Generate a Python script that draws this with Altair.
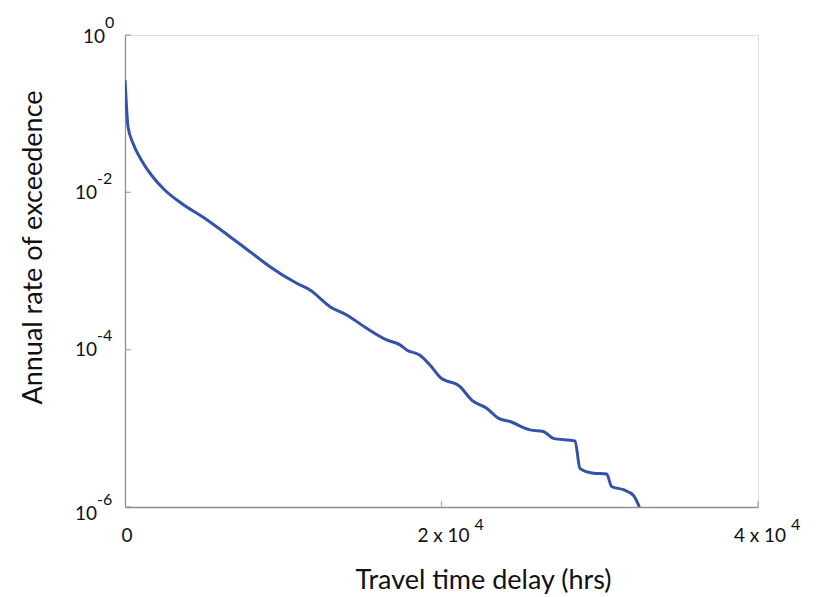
import altair as alt
import pandas as pd

# Curve (travel time delay in hrs, annual rate of exceedence)
delay_hrs = [0, 82, 190, 506, 1030, 1662, 2509, 3558, 5036, 6635, 7899, 9163,
             10850, 11690, 12954, 14010, 15273, 16536, 17378, 17800, 18641, 19273,
             19905, 21169, 21906, 22854, 23590, 24328, 25592, 26435, 27067, 28436,
             28752, 29594, 30437, 30753, 31490, 32122, 32438, 32500]
annual_rate = [0.268, 0.1355, 0.0684, 0.0420, 0.0258, 0.0166, 0.0107, 0.00726, 0.00468,
               0.00273, 0.00176, 0.001135, 0.000698, 0.000574, 0.000352, 0.000276,
               0.000187, 0.000133, 0.000115, 0.0000991, 0.0000851, 0.0000638,
               0.0000447, 0.0000339, 0.0000229, 0.0000180, 0.0000135, 0.0000122,
               0.00000955, 0.00000912, 0.00000746, 0.00000692, 0.00000309, 0.00000269,
               0.00000263, 0.00000182, 0.00000166, 0.00000141, 0.00000107, 0.000001]

y_tick_values = [1, 1e-2, 1e-4, 1e-6]
y_tick_exps = ["0", "-2", "-4", "-6"]
x_tick_values = [0, 20000, 40000]
x_tick_mant = ["0", "2 x 10", "4 x 10"]
x_tick_exps = ["", "4", "4"]

FONT = "Lato"
AX = "#8f8f8f"
LINE = "#3352a8"

curve = pd.DataFrame({"x": delay_hrs, "y": annual_rate, "order": range(len(delay_hrs))})
ytk = pd.DataFrame({"y": y_tick_values, "exp": y_tick_exps})
xtk = pd.DataFrame({"x": x_tick_values, "mant": x_tick_mant, "exp": x_tick_exps})

xscale = alt.Scale(domain=[0, 40000], nice=False, zero=False)
yscale = alt.Scale(type="log", domain=[1e-6, 1], nice=False)

line = alt.Chart(curve).mark_line(color=LINE, strokeWidth=3, strokeJoin="round",
                                  interpolate="monotone", clip=True).encode(
    x=alt.X("x:Q", scale=xscale,
            axis=alt.Axis(labels=False, ticks=False, grid=False, domainColor=AX, domainWidth=1.3,
                          title="Travel time delay (hrs)", titleFont=FONT, titleFontSize=27,
                          titleFontWeight="normal", titleColor="#111",
                          titleX=358, titleY=81, titleBaseline="alphabetic", titleAlign="center")),
    y=alt.Y("y:Q", scale=yscale,
            axis=alt.Axis(labels=False, ticks=False, grid=False, domainColor=AX, domainWidth=1.3,
                          title="Annual rate of exceedence", titleFont=FONT, titleFontSize=27,
                          titleFontWeight="normal", titleColor="#111",
                          titleX=-92, titleY=212, titleBaseline="middle", titleAlign="center",
                          titleAngle=-90)),
    order="order:Q",
)

# inward ticks
ytick_marks = alt.Chart(ytk).mark_tick(orient="horizontal", size=6, thickness=1.3, color=AX, xOffset=3).encode(
    x=alt.datum(0, scale=xscale), y=alt.Y("y:Q", scale=yscale))
xtick_marks = alt.Chart(xtk).transform_filter("datum.x > 0").mark_tick(
    orient="vertical", size=6, thickness=1.3, color=AX, yOffset=-3).encode(
    x=alt.X("x:Q", scale=xscale), y=alt.datum(1e-6, scale=yscale))

def ylabel(exp, dx10, dxexp, dy):
    base = alt.Chart(ytk).transform_filter(alt.datum.exp == exp)
    ten = base.mark_text(font=FONT, fontSize=19, align="right", baseline="middle",
                         dx=dx10, dy=dy, color="#111").encode(
        x=alt.datum(0, scale=xscale), y=alt.Y("y:Q", scale=yscale), text=alt.value("10"))
    sup = base.mark_text(font=FONT, fontSize=16, align="left", baseline="middle",
                         dx=dxexp, dy=dy - 14, color="#111").encode(
        x=alt.datum(0, scale=xscale), y=alt.Y("y:Q", scale=yscale), text="exp:N")
    return ten + sup

ylabels = (ylabel("0", -20, -20, 2) + ylabel("-2", -28, -28, 1) +
           ylabel("-4", -28, -28, 0) + ylabel("-6", -28, -28, 7))

xmant = alt.Chart(xtk).mark_text(font=FONT, fontSize=19, align="center", baseline="middle",
                                 dx=2, dy=29, color="#111").encode(
    x=alt.X("x:Q", scale=xscale), y=alt.datum(1e-6, scale=yscale), text="mant:N")
xexp = alt.Chart(xtk).mark_text(font=FONT, fontSize=16, align="left", baseline="middle",
                                dx=33, dy=18, color="#111").encode(
    x=alt.X("x:Q", scale=xscale), y=alt.datum(1e-6, scale=yscale), text="exp:N")

chart = alt.layer(line, ytick_marks, xtick_marks, ylabels, xmant, xexp).properties(
    width=633, height=472,
    autosize=alt.AutoSizeParams(type="none"),
    padding={"left": 125, "top": 35, "right": 65, "bottom": 90},
).configure_view(stroke=None).configure(background="white")

chart.save("out.html", embed_options={"renderer": "svg", "actions": False})
